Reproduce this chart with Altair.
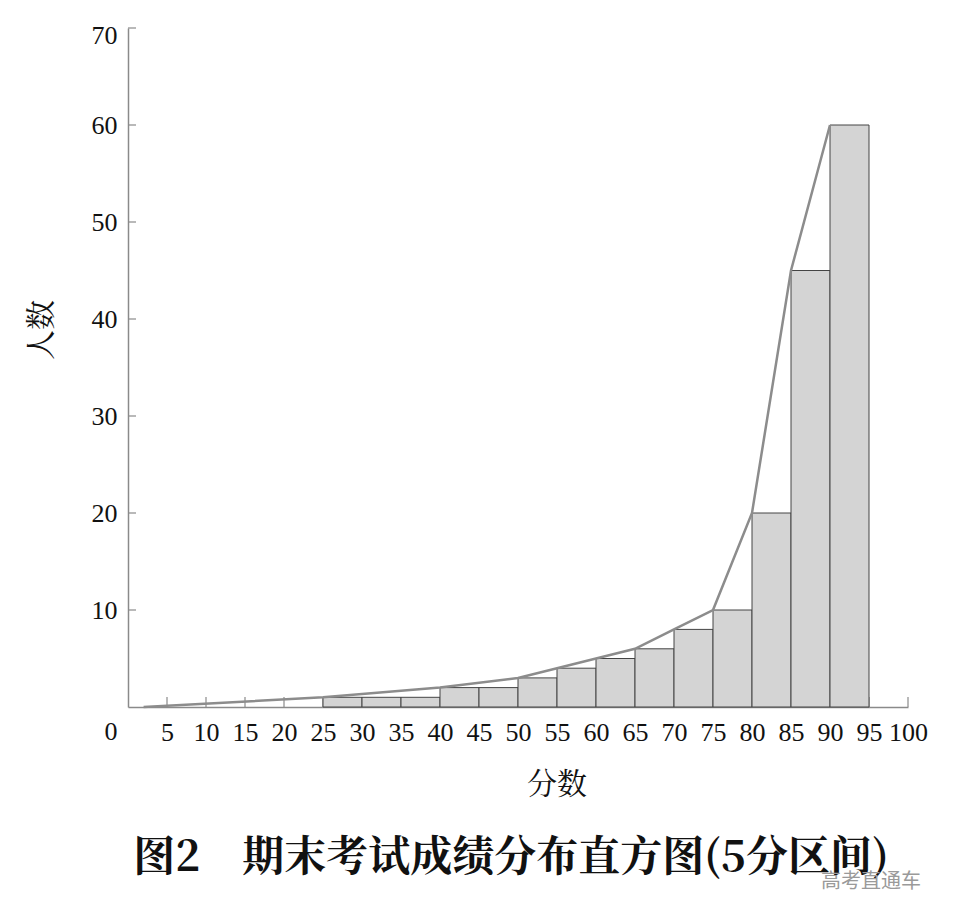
import altair as alt
import pandas as pd

# Histogram bins (5-point intervals) and head counts
bin_start = [25, 30, 35, 40, 45, 50, 55, 60, 65, 70, 75, 80, 85, 90]
bin_end = [30, 35, 40, 45, 50, 55, 60, 65, 70, 75, 80, 85, 90, 95]
counts = [1, 1, 1, 2, 2, 3, 4, 5, 6, 8, 10, 20, 45, 60]

# Frequency polygon vertices
poly_x = [2, 25, 40, 50, 55, 60, 65, 70, 75, 80, 85, 90]
poly_y = [0, 1, 2, 3, 4, 5, 6, 8, 10, 20, 45, 60]

x_tick_values = list(range(0, 101, 5))
y_tick_values = [0, 10, 20, 30, 40, 50, 60, 70]

x_title = "分数"
y_title = "人数"
fig_title = "图2\u3000期末考试成绩分布直方图(5分区间)"
watermark = "高考直通车"

W, H = 780, 679
NUM_FONT = "Liberation Serif"
CJK_FONT = "Noto Serif CJK SC, Noto Sans CJK SC"
AXIS_GRAY = "#8a8a8a"

bars_df = pd.DataFrame({"start": bin_start, "end": bin_end, "count": counts})
poly_df = pd.DataFrame({"x": poly_x, "y": poly_y})
xt_df = pd.DataFrame({"v": x_tick_values[1:]})
yt_df = pd.DataFrame({"v": y_tick_values[1:]})

x_scale = alt.Scale(domain=[0, 100], nice=False, zero=True)
y_scale = alt.Scale(domain=[0, 70], nice=False, zero=True)

x_axis = alt.Axis(
    values=x_tick_values,
    labelExpr="datum.value == 0 ? '' : datum.label",
    ticks=False, tickSize=0, grid=False, title=None,
    domainColor=AXIS_GRAY, domainWidth=1.5,
    labelFont=NUM_FONT, labelFontSize=26, labelColor="#111",
    labelPadding=12, labelAngle=0, labelOverlap=False, labelFlush=False,
)
y_axis = alt.Axis(
    values=y_tick_values,
    labelExpr="datum.value == 0 ? '' : datum.label",
    ticks=False, tickSize=0, grid=False, title=None,
    domainColor=AXIS_GRAY, domainWidth=1.5,
    labelFont=NUM_FONT, labelFontSize=26, labelColor="#111",
    labelPadding=11, labelFlush=True, labelFlushOffset=6,
)

xticks = alt.Chart(xt_df).mark_rule(color=AXIS_GRAY, strokeWidth=1.2).encode(
    x=alt.X("v:Q", scale=x_scale, axis=x_axis),
    y=alt.value(H), y2=alt.value(H - 10),
)
yticks = alt.Chart(yt_df).mark_rule(color=AXIS_GRAY, strokeWidth=1.2).encode(
    y=alt.Y("v:Q", scale=y_scale, axis=y_axis),
    x=alt.value(0), x2=alt.value(8),
)

bars = alt.Chart(bars_df).mark_bar(
    fill="#d4d4d4", stroke="#444444", strokeWidth=1
).encode(
    x=alt.X("start:Q", scale=x_scale, axis=x_axis),
    x2="end:Q",
    y=alt.Y("count:Q", scale=y_scale, axis=y_axis),
    y2=alt.datum(0),
)

poly = alt.Chart(poly_df).mark_line(color="#8c8c8c", strokeWidth=2.5).encode(
    x=alt.X("x:Q", scale=x_scale, axis=x_axis),
    y=alt.Y("y:Q", scale=y_scale, axis=y_axis),
    order="x:Q",
)

def text_layer(txt, x, y, size, **kw):
    return alt.Chart(pd.DataFrame({"t": [txt]})).mark_text(
        fontSize=size, **kw
    ).encode(text="t:N", x=alt.value(x), y=alt.value(y))

zero_label = text_layer("0", -17, H + 25, 26, font=NUM_FONT, color="#111",
                        align="center", baseline="middle")
xt = text_layer(x_title, 429, 757, 30, font=CJK_FONT, color="#111",
                align="center", baseline="middle")
yt = text_layer(y_title, -86, 302, 30, font=CJK_FONT, color="#111",
                align="center", baseline="middle", angle=270)
tt = text_layer(fig_title, 383, 830, 42, font=CJK_FONT, color="#111",
                fontWeight="bold", align="center", baseline="middle")
wm = text_layer(watermark, 743, 854, 20, font="Noto Sans CJK SC", color="#9a9a9a",
                align="center", baseline="middle")

chart = alt.layer(xticks, yticks, bars, poly, zero_label, xt, yt, tt, wm).properties(
    width=W, height=H,
    autosize=alt.AutoSizeParams(type="none"),
    padding={"left": 120, "top": 20, "right": 30, "bottom": 200},
).configure(
    background="white",
    view=alt.ViewConfig(stroke=None),
)

chart.save("out.html", embed_options={"renderer": "svg", "actions": False})
